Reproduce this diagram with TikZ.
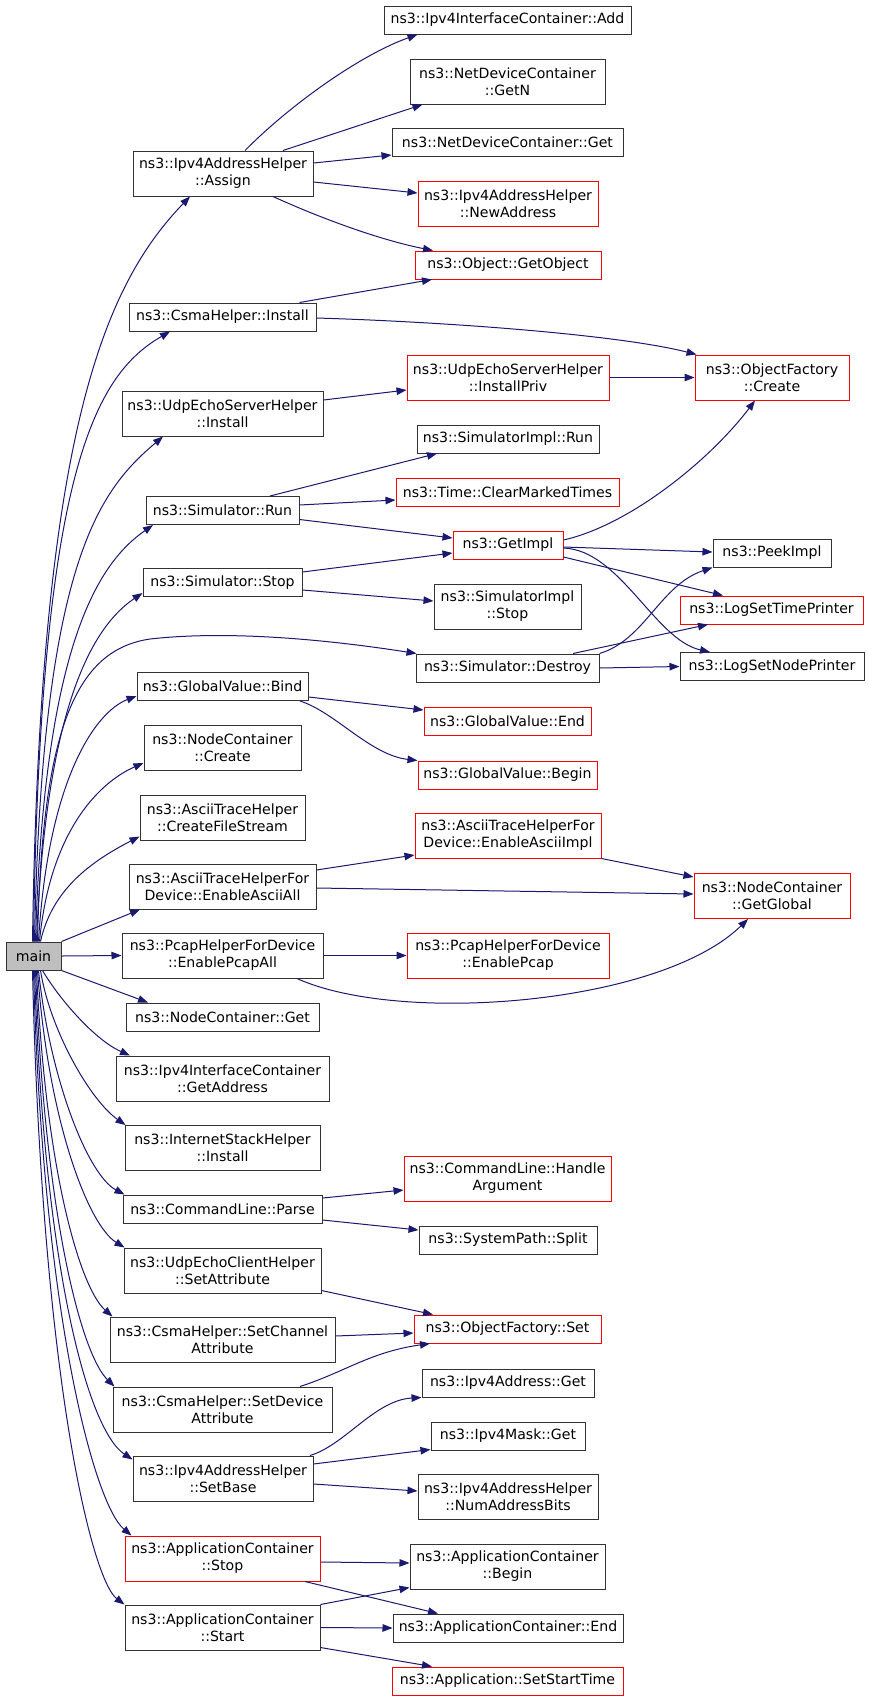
\documentclass[tikz,border=0pt]{standalone}
\usepackage{fontspec}
\setmainfont{DejaVu Sans}
\usetikzlibrary{arrows.meta}
\definecolor{callblue}{RGB}{25,25,112}
\definecolor{maingray}{RGB}{191,191,191}

\begin{document}
\begin{tikzpicture}[x=1pt,y=-1pt,
  func/.style={draw=black!80,line width=1pt,fill=white,inner sep=0pt,align=center,
    minimum height=28pt,font=\fontsize{14.1}{17}\selectfont},
  func2/.style={func,minimum height=45pt},
  trunc/.style={draw=red},
  call/.style={draw=callblue,line width=1pt,-{Triangle[length=10pt,width=7.5pt]}}
]
  \useasboundingbox[fill=white] (0,0) rectangle (869,1701);

  \node[func,fill=maingray,minimum width=55pt] (main) at (33.5,956) {main};

  \node[func2,minimum width=180pt] (assign) at (223,173.5) {ns3::Ipv4AddressHelper\\::Assign};
  \node[func,minimum width=187pt] (csmainst) at (222.5,317) {ns3::CsmaHelper::Install};
  \node[func2,minimum width=201pt] (srvinst) at (222.5,413.5) {ns3::UdpEchoServerHelper\\::Install};
  \node[func,minimum width=153pt] (simrun) at (222.5,510.5) {ns3::Simulator::Run};
  \node[func,minimum width=159pt] (simstop) at (222.5,582.5) {ns3::Simulator::Stop};
  \node[func,minimum width=171pt] (gvbind) at (222.5,686.5) {ns3::GlobalValue::Bind};
  \node[func2,minimum width=157pt] (ncreate) at (222.5,748) {ns3::NodeContainer\\::Create};
  \node[func2,minimum width=165pt] (cfstream) at (222.5,817.5) {ns3::AsciiTraceHelper\\::CreateFileStream};
  \node[func2,minimum width=187pt] (asciiall) at (222.5,886.5) {ns3::AsciiTraceHelperFor\\Device::EnableAsciiAll};
  \node[func2,minimum width=201pt] (pcapall) at (222.5,955.5) {ns3::PcapHelperForDevice\\::EnablePcapAll};
  \node[func,minimum width=193pt] (ncget) at (222.5,1017) {ns3::NodeContainer::Get};
  \node[func2,minimum width=213pt] (getaddr) at (222.5,1078.5) {ns3::Ipv4InterfaceContainer\\::GetAddress};
  \node[func2,minimum width=195pt] (inetinst) at (222.5,1148) {ns3::InternetStackHelper\\::Install};
  \node[func,minimum width=199pt] (clparse) at (222.5,1209) {ns3::CommandLine::Parse};
  \node[func2,minimum width=197pt] (clientattr) at (222.5,1270.5) {ns3::UdpEchoClientHelper\\::SetAttribute};
  \node[func2,minimum width=225pt] (chanattr) at (222.5,1339.5) {ns3::CsmaHelper::SetChannel\\Attribute};
  \node[func2,minimum width=219pt] (devattr) at (222.5,1409.5) {ns3::CsmaHelper::SetDevice\\Attribute};
  \node[func2,minimum width=180pt] (setbase) at (223,1478.5) {ns3::Ipv4AddressHelper\\::SetBase};
  \node[func2,trunc,minimum width=195pt] (appstop) at (222.5,1558.5) {ns3::ApplicationContainer\\::Stop};
  \node[func2,minimum width=195pt] (appstart) at (222.5,1627.5) {ns3::ApplicationContainer\\::Start};

  \node[func,minimum width=247pt] (ipadd) at (507.5,20) {ns3::Ipv4InterfaceContainer::Add};
  \node[func2,minimum width=195pt] (getn) at (507.5,81.5) {ns3::NetDeviceContainer\\::GetN};
  \node[func,minimum width=231pt] (ndget) at (507.5,142.5) {ns3::NetDeviceContainer::Get};
  \node[func2,trunc,minimum width=180pt] (newaddr) at (508,204) {ns3::Ipv4AddressHelper\\::NewAddress};
  \node[func,trunc,minimum width=186pt] (getobj) at (508,265) {ns3::Object::GetObject};
  \node[func2,trunc,minimum width=202pt] (instpriv) at (508,377.5) {ns3::UdpEchoServerHelper\\::InstallPriv};
  \node[func,minimum width=182pt] (implrun) at (508,439) {ns3::SimulatorImpl::Run};
  \node[func,trunc,minimum width=223pt] (clrtimes) at (507.5,492) {ns3::Time::ClearMarkedTimes};
  \node[func,trunc,minimum width=110pt] (getimpl) at (508,545) {ns3::GetImpl};
  \node[func2,minimum width=147pt] (implstop) at (507.5,606.5) {ns3::SimulatorImpl\\::Stop};
  \node[func,minimum width=183pt] (destroy) at (507.5,668) {ns3::Simulator::Destroy};
  \node[func,trunc,minimum width=167pt] (gvend) at (507.5,721) {ns3::GlobalValue::End};
  \node[func,trunc,minimum width=179pt] (gvbegin) at (507.5,775) {ns3::GlobalValue::Begin};
  \node[func2,trunc,minimum width=186pt] (asciiimpl) at (508,835.5) {ns3::AsciiTraceHelperFor\\Device::EnableAsciiImpl};
  \node[func2,trunc,minimum width=202pt] (pcap) at (508,955.5) {ns3::PcapHelperForDevice\\::EnablePcap};
  \node[func2,trunc,minimum width=207pt] (handlearg) at (507.5,1178.5) {ns3::CommandLine::Handle\\Argument};
  \node[func,minimum width=178pt] (split) at (508,1240) {ns3::SystemPath::Split};
  \node[func,trunc,minimum width=187pt] (ofset) at (507.5,1329) {ns3::ObjectFactory::Set};
  \node[func,minimum width=172pt] (v4get) at (508,1383) {ns3::Ipv4Address::Get};
  \node[func,minimum width=154pt] (maskget) at (508,1436) {ns3::Ipv4Mask::Get};
  \node[func2,minimum width=180pt] (numbits) at (508,1497) {ns3::Ipv4AddressHelper\\::NumAddressBits};
  \node[func2,minimum width=195pt] (acbegin) at (507.5,1566.5) {ns3::ApplicationContainer\\::Begin};
  \node[func,minimum width=230pt] (acend) at (508,1628) {ns3::ApplicationContainer::End};
  \node[func,trunc,minimum width=231pt] (starttime) at (507.5,1681) {ns3::Application::SetStartTime};

  \node[func2,trunc,minimum width=154pt] (ofcreate) at (772,377.5) {ns3::ObjectFactory\\::Create};
  \node[func,minimum width=118pt] (peek) at (772,553) {ns3::PeekImpl};
  \node[func,trunc,minimum width=183pt] (logtime) at (771.5,610) {ns3::LogSetTimePrinter};
  \node[func,minimum width=184pt] (lognode) at (772,666.5) {ns3::LogSetNodePrinter};
  \node[func2,trunc,minimum width=156pt] (getglobal) at (772,896) {ns3::NodeContainer\\::GetGlobal};

  \draw[call] ([xshift=-1pt]main.north) .. controls (40,430) and (105,285) .. ([xshift=-33pt]assign.south);
  \draw[call] (main.north) .. controls (40,470) and (95,375) .. ([xshift=-52.5pt]csmainst.south);
  \draw[call] ([xshift=1pt]main.north) .. controls (42,560) and (100,490) .. ([xshift=-59.5pt]srvinst.south);
  \draw[call] ([xshift=2pt]main.north) .. controls (44,640) and (100,562) .. ([xshift=-69.5pt]simrun.south);
  \draw[call] ([xshift=3pt]main.north) .. controls (46,700) and (95,625) .. ([yshift=-10.5pt]simstop.west);
  \draw[call] ([xshift=4pt]main.north) .. controls (42,730) and (75,650) .. (150,639)
    .. controls (230,630) and (330,640) .. ([xshift=1pt]destroy.north west);
  \draw[call] ([xshift=5pt]main.north) .. controls (48,780) and (95,712) .. ([yshift=-9.5pt]gvbind.west);
  \draw[call] ([xshift=6pt]main.north) .. controls (50,830) and (100,782) .. ([yshift=-15pt]ncreate.west);
  \draw[call] ([xshift=7pt]main.north) .. controls (52,890) and (90,862) .. ([yshift=-19pt]cfstream.west);
  \draw[call] (main.north east) -- ([xshift=-82.5pt]asciiall.south);
  \draw[call] (main.east) -- (pcapall.west);
  \draw[call] (main.south east) -- ([xshift=-74.5pt]ncget.north);
  \draw[call] ([xshift=9pt]main.south) .. controls (60,1000) and (95,1040) .. ([xshift=-92.5pt]getaddr.north);
  \draw[call] ([xshift=7pt]main.south) .. controls (50,1030) and (90,1100) .. ([xshift=-97pt]inetinst.north);
  \draw[call] ([xshift=5pt]main.south) .. controls (50,1080) and (88,1175) .. ([xshift=-98pt]clparse.north);
  \draw[call] ([xshift=4pt]main.south) .. controls (48,1120) and (88,1225) .. ([xshift=-98pt]clientattr.north);
  \draw[call] ([xshift=3pt]main.south) .. controls (46,1180) and (82,1290) .. ([xshift=-110pt]chanattr.north);
  \draw[call] ([xshift=2pt]main.south) .. controls (45,1220) and (82,1355) .. ([xshift=-108pt]devattr.north);
  \draw[call] ([xshift=1pt]main.south) .. controls (44,1270) and (88,1430) .. ([yshift=-4pt]setbase.north west);
  \draw[call] (main.south) .. controls (43,1320) and (95,1505) .. ([xshift=7pt]appstop.north west);
  \draw[call] ([xshift=-1pt]main.south) .. controls (42,1380) and (92,1580) .. (appstart.north west);

  \draw[call] ([xshift=22pt]assign.north) .. controls (290,105) and (360,55) .. ([xshift=-90pt]ipadd.south);
  \draw[call] ([xshift=60pt]assign.north) -- ([xshift=-85pt]getn.south);
  \draw[call] ([yshift=10.5pt]assign.east) -- ([yshift=2pt]ndget.south west);
  \draw[call] ([yshift=-8.5pt]assign.east) -- ([yshift=11pt]newaddr.west);
  \draw[call] ([xshift=50pt]assign.south) .. controls (320,218) and (380,240) .. ([xshift=-75pt]getobj.north);
  \draw[call] ([xshift=77pt]csmainst.north) -- ([xshift=-76pt]getobj.south);
  \draw[call] ([yshift=-1pt]csmainst.east) .. controls (450,322) and (620,335) .. ([xshift=2pt]ofcreate.north west);
  \draw[call] ([yshift=13.5pt]srvinst.east) -- ([yshift=-12.5pt]instpriv.west);
  \draw[call] (instpriv.east) -- (ofcreate.west);
  \draw[call] ([xshift=47.5pt]simrun.north) -- ([xshift=-71pt]implrun.south);
  \draw[call] ([yshift=5.5pt]simrun.east) -- ([yshift=-8pt]clrtimes.west);
  \draw[call] ([yshift=-9pt]simrun.east) -- ([yshift=7pt]getimpl.west);
  \draw[call] ([yshift=10.5pt]simstop.east) -- ([yshift=-8pt]getimpl.west);
  \draw[call] ([yshift=-7.5pt]simstop.east) -- ([yshift=5.5pt]implstop.west);
  \draw[call] ([yshift=5pt]getimpl.east) .. controls (630,525) and (710,460) .. ([xshift=-17pt]ofcreate.south);
  \draw[call] ([yshift=-2pt]getimpl.east) -- ([yshift=1pt]peek.west);
  \draw[call] ([yshift=-12pt]getimpl.east) -- ([xshift=-48.5pt]logtime.north);
  \draw[call] ([yshift=-3pt]getimpl.east) .. controls (620,550) and (655,640) .. ([xshift=-62pt]lognode.north);
  \draw[call] (destroy.north east) .. controls (645,640) and (660,585) .. (peek.south west);
  \draw[call] ([xshift=65.5pt]destroy.north) -- ([xshift=-63.5pt]logtime.south);
  \draw[call] (destroy.east) -- (lognode.west);
  \draw[call] ([yshift=-10.5pt]gvbind.east) -- ([yshift=11pt]gvend.west);
  \draw[call] ([xshift=77.5pt]gvbind.south) .. controls (335,712) and (370,755) .. (gvbegin.north west);
  \draw[call] ([yshift=16.5pt]asciiall.east) -- ([yshift=-19.5pt]asciiimpl.west);
  \draw[call] ([yshift=-1.5pt]asciiall.east) -- ([yshift=2pt]getglobal.west);
  \draw[call] (asciiimpl.south east) -- ([yshift=-4pt]getglobal.north west);
  \draw[call] (pcapall.east) -- (pcap.west);
  \draw[call] ([xshift=74.5pt]pcapall.south) .. controls (400,1025) and (660,1005) .. ([xshift=-24pt]getglobal.south);
  \draw[call] ([yshift=11pt]clparse.east) -- ([yshift=-11.5pt]handlearg.west);
  \draw[call] ([yshift=-11pt]clparse.east) -- ([yshift=10pt]split.west);
  \draw[call] ([yshift=3pt]clientattr.south east) -- ([xshift=-74.5pt]ofset.north);
  \draw[call] ([yshift=3.5pt]chanattr.east) -- ([yshift=-4pt]ofset.west);
  \draw[call] ([xshift=77.5pt]devattr.north) .. controls (345,1372) and (370,1352) .. ([xshift=-77.5pt]ofset.south);
  \draw[call] ([xshift=87pt]setbase.north) .. controls (345,1445) and (375,1400) .. (v4get.south west);
  \draw[call] ([yshift=14.5pt]setbase.east) -- ([yshift=1pt]maskget.south west);
  \draw[call] ([yshift=-5.5pt]setbase.east) -- ([yshift=6pt]numbits.west);
  \draw[call] ([yshift=-3.5pt]appstop.east) -- ([yshift=3.5pt]acbegin.west);
  \draw[call] ([xshift=82.5pt]appstop.south) -- ([xshift=-70pt]acend.north);
  \draw[call] (appstart.north east) -- ([yshift=2pt]acbegin.south west);
  \draw[call] (appstart.east) -- (acend.west);
  \draw[call] ([yshift=3pt]appstart.south east) -- ([xshift=-75.5pt]starttime.north);
\end{tikzpicture}
\end{document}
